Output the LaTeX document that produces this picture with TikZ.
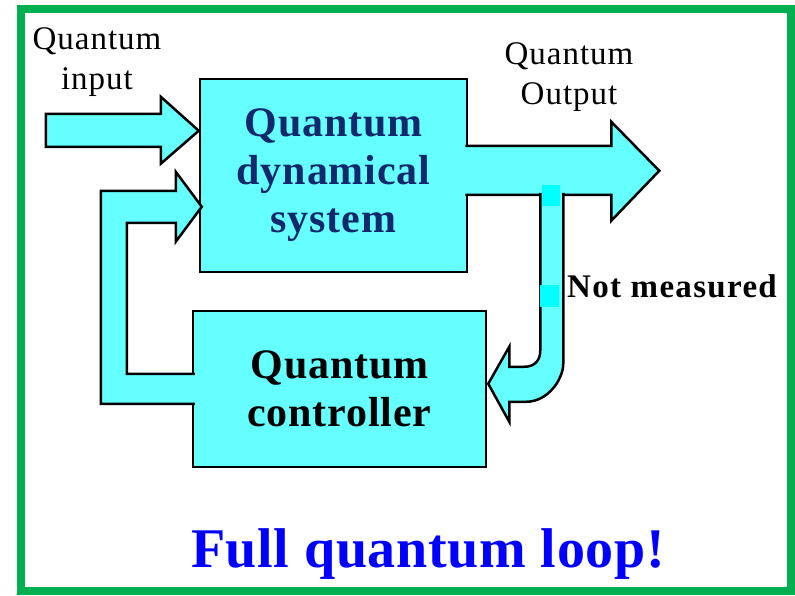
\documentclass[tikz,border=0pt]{standalone}
\usepackage{fontspec}
\setmainfont{Liberation Serif}
\usepackage{tikz}
\usetikzlibrary{calc,positioning}
\definecolor{qcyan}{HTML}{66FFFF}
\definecolor{qhl}{HTML}{00FFFF}
\definecolor{qgreen}{HTML}{00B050}
\definecolor{qnavy}{HTML}{14286E}
\definecolor{qblue}{HTML}{0000FF}
\tikzset{
  frame/.style={draw=qgreen,line width=8pt},
  box/.style={draw=black,line width=2.5pt,fill=qcyan,inner sep=0pt,align=center,
    font=\bfseries\fontsize{42}{48}\selectfont\addfontfeature{LetterSpace=2}},
  blk/.style={draw=black,line width=2.5pt,fill=qcyan,line join=miter},
  lbl/.style={inner sep=0pt,align=center,font=\fontsize{33}{40}\selectfont\addfontfeature{LetterSpace=3}},
  nmlbl/.style={inner sep=0pt,font=\bfseries\fontsize{33}{40}\selectfont\addfontfeature{LetterSpace=4}},
  ttl/.style={inner sep=0pt,text=qblue,font=\bfseries\fontsize{56}{60}\selectfont\addfontfeature{LetterSpace=1.2}}
}
\begin{document}
\begin{tikzpicture}[x=1pt,y=-1pt]
\useasboundingbox (0,0) rectangle (795,595);
\draw[frame] (21,9) rectangle (791,591);
% the two boxes
\node[box,minimum width=267pt,minimum height=193pt,text=qnavy] (sys) at (333.5,175.5) {Quantum\\dynamical\\system};
\node[box,minimum width=293pt,minimum height=156pt] (ctrl) at (339.5,389) {Quantum\\controller};
% block arrows
\coordinate (intip) at ($(sys.north west)+(0,53)$);
\coordinate (fbtip) at ($(sys.north west)+(3,129)$);
\coordinate (outtip) at ($(sys.north east)+(191,93)$);
\coordinate (nmtip) at ($(ctrl.north east)+(1,74)$);
\draw[blk] (intip) -- ++(-38,-34) -- ++(0,17) -- ++(-115,0) -- ++(0,33) -- ++(115,0) -- ++(0,17) -- cycle;
\draw[blk] ($(ctrl.north west)+(3,64)$) -- ++(-68,0) -- ++(0,-151) -- ++(49,0) -- ++(0,19) -- (fbtip)
  -- ++(-26,-35) -- ++(0,19) -- ++(-75,0) -- ++(0,213) -- ($(ctrl.north west)+(3,94)$);
\draw[blk] ($(sys.north east)+(-3,68)$) -- ++(146,0) -- ++(0,-24) -- (outtip) -- ++(-48,50) -- ++(0,-26)
  -- ($(sys.north east)+(-3,117)$);
\coordinate (split) at ($(sys.north east)+(72,115)$);
\draw[blk] (split) -- ++(0,158) .. controls +(0,10) and +(10,0) .. ++(-16,16) -- ++(-15,0) -- ++(0,-20) -- (nmtip)
  -- ++(21,38) -- ++(0,-20) -- ++(17,0) .. controls +(22,0) and +(0,15) .. ++(37,-38) -- ++(0,-171);
\fill[qhl] (542,185) rectangle (560,206);
\fill[qhl] (540,285) rectangle (559,307);
% labels
\node[lbl,anchor=north] (qin) at (97,27) {Quantum\\input};
\node[lbl,anchor=north] (qout) at (569,42) {Quantum\\Output};
\node[nmlbl,anchor=base west] (nm) at (567,297) {Not measured};
\node[ttl,anchor=base] (title) at (428,567) {Full quantum loop!};
\end{tikzpicture}
\end{document}
